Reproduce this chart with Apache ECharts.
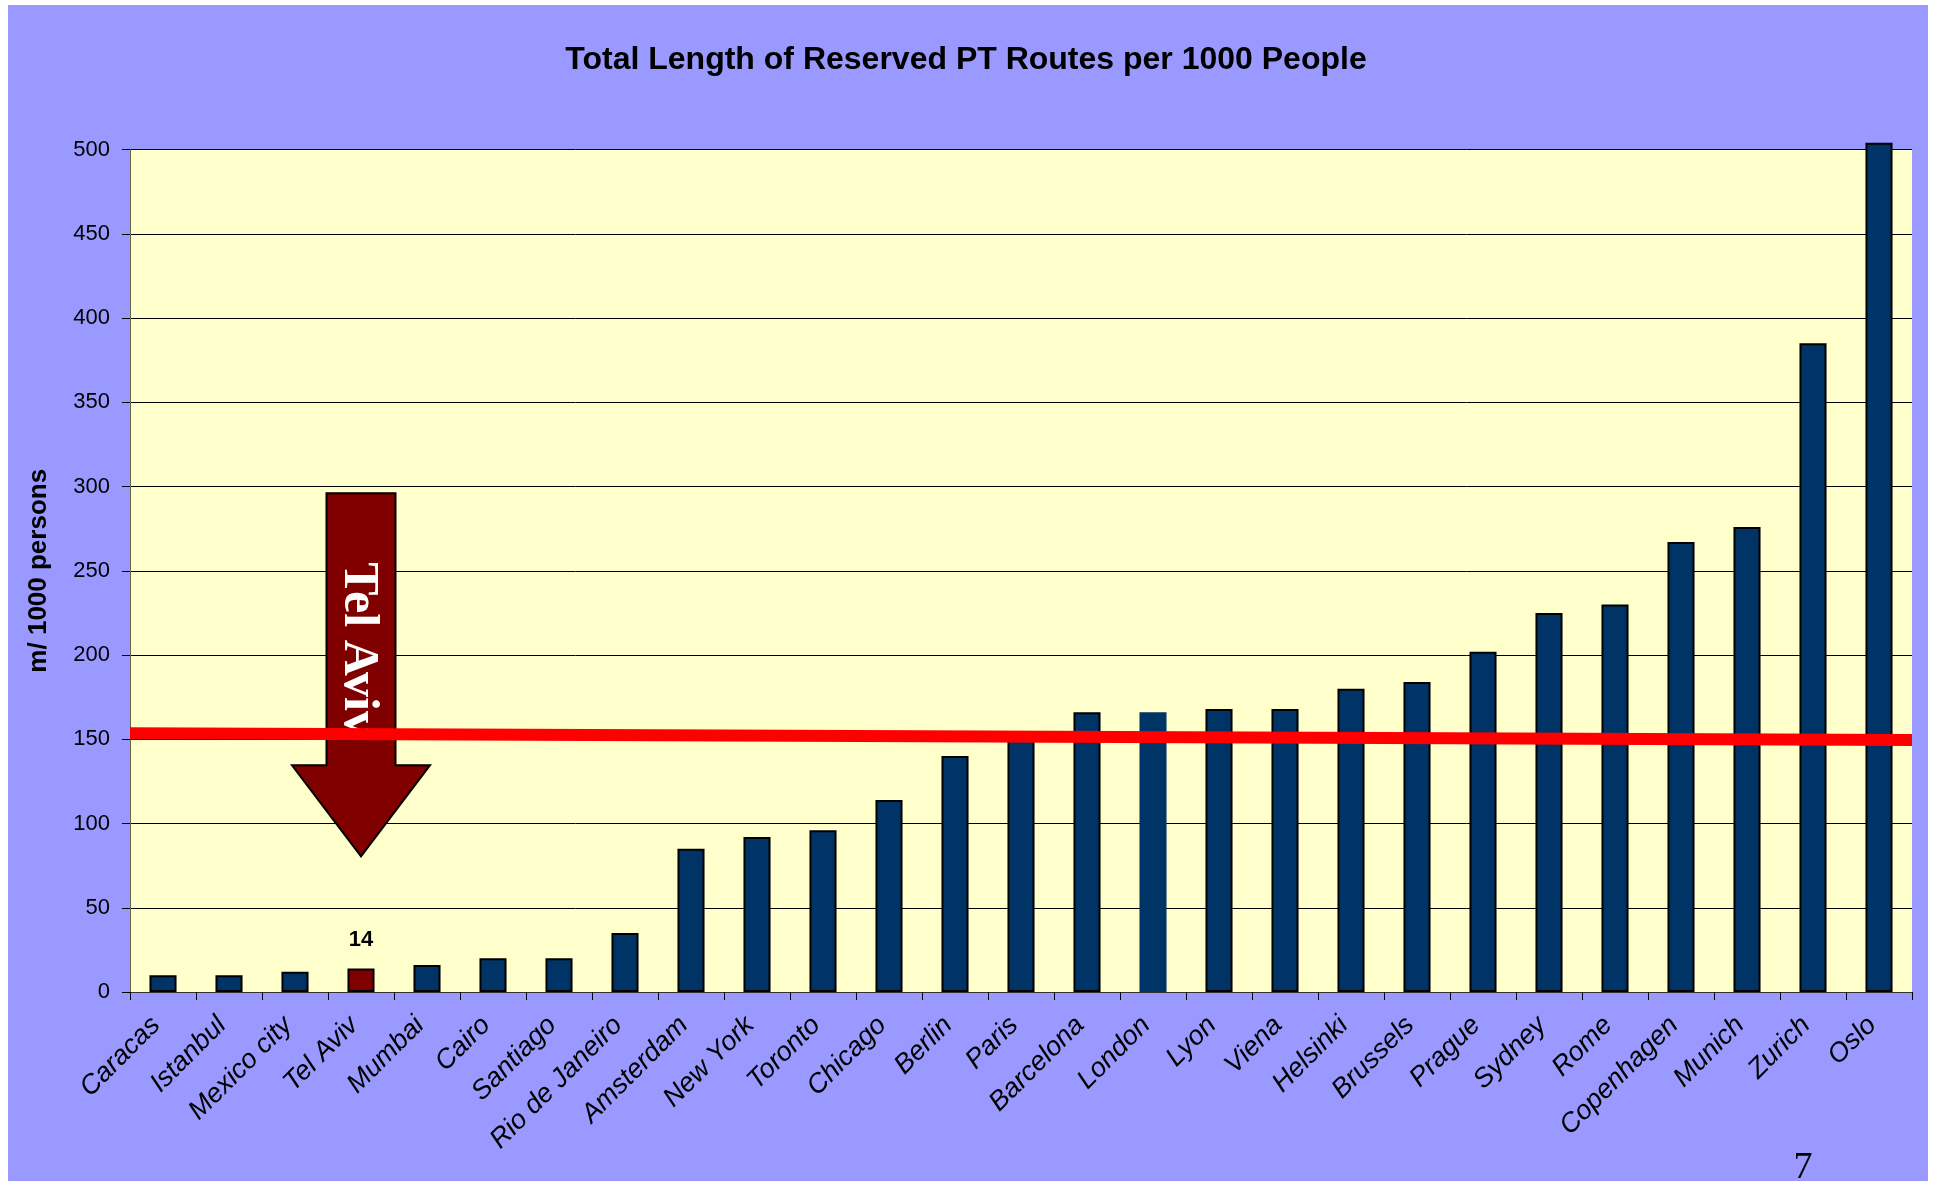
<!DOCTYPE html>
<html>
<head>
    <meta charset="utf-8">
    <title>Total Length of Reserved PT Routes per 1000 People</title>
    <script src="https://cdn.jsdelivr.net/npm/echarts@6/dist/echarts.min.js"></script>
    <style>
        body {
            margin: 0;
            background-color: #ffffff;
            font-family: 'Liberation Sans', Arial, sans-serif;
        }

        #chart {
            position: absolute;
            left: 8px;
            top: 5px;
            width: 1920px;
            height: 1176px;
            background-color: #9999ff;
        }
    </style>
</head>
<body>
    <div id="chart"></div>

    <script type="text/javascript">
        // 城市与数值
        const cities = ['Caracas', 'Istanbul', 'Mexico city', 'Tel Aviv', 'Mumbai', 'Cairo', 'Santiago',
            'Rio de Janeiro', 'Amsterdam', 'New York', 'Toronto', 'Chicago', 'Berlin', 'Paris',
            'Barcelona', 'London', 'Lyon', 'Viena', 'Helsinki', 'Brussels', 'Prague', 'Sydney',
            'Rome', 'Copenhagen', 'Munich', 'Zurich', 'Oslo'];
        const lengths = [10, 10, 12, 14, 16, 20, 20, 35, 85, 92, 96, 114, 140, 150,
            166, 166, 168, 168, 180, 184, 202, 225, 230, 267, 276, 385, 504];
        const yTicks = [0, 50, 100, 150, 200, 250, 300, 350, 400, 450, 500];
        // 红色平均线：左端、右端
        const avgLine = [153.5, 149.5];
        const highlightCity = 'Tel Aviv';
        const noBorderCity = 'London';
        // 箭头（数值坐标）：顶部、箭头底座、尖端、文字起点
        const arrowValues = { top: 296, base: 134.5, tip: 80.5, text: 255 };

        const chart = echarts.init(document.getElementById('chart'));

        const barData = cities.map(function (name, i) {
            const item = { value: lengths[i] };
            if (name === highlightCity) {
                item.itemStyle = { color: '#800000' };
                item.label = {
                    show: true,
                    position: 'top',
                    distance: 17,
                    fontSize: 22,
                    fontWeight: 'bold',
                    color: '#000',
                    fontFamily: 'Liberation Sans'
                };
            }
            if (name === noBorderCity) {
                item.itemStyle = { borderWidth: 0 };
            }
            return item;
        });

        const option = {
            animation: false,
            title: {
                text: 'Total Length of Reserved PT Routes per 1000 People',
                left: 953,
                top: 34,
                textAlign: 'center',
                textStyle: {
                    fontSize: 32,
                    fontWeight: 'bold',
                    color: '#000',
                    fontFamily: 'Liberation Sans'
                }
            },
            grid: {
                left: 122,
                right: 16,
                top: 144.5,
                bottom: 189,
                show: true,
                backgroundColor: '#ffffcc',
                borderWidth: 0
            },
            xAxis: [{
                type: 'category',
                data: cities,
                axisLine: { lineStyle: { color: '#333', width: 1 } },
                axisTick: { show: true, length: 8, lineStyle: { color: '#000' } },
                axisLabel: {
                    rotate: 45,
                    interval: 0,
                    margin: 22,
                    padding: [0, 10, 0, 0],
                    fontSize: 27,
                    fontStyle: 'italic',
                    color: '#000',
                    fontFamily: 'Liberation Sans'
                }
            }, {
                type: 'value',
                min: 0,
                max: 1,
                show: false
            }],
            yAxis: {
                type: 'value',
                min: yTicks[0],
                max: yTicks[yTicks.length - 1],
                interval: 50,
                name: 'm/ 1000 persons',
                nameLocation: 'middle',
                nameGap: 78,
                nameTextStyle: {
                    fontSize: 26,
                    fontWeight: 'bold',
                    color: '#000',
                    fontFamily: 'Liberation Sans'
                },
                axisLine: { show: true, lineStyle: { color: '#666644', width: 1 } },
                axisTick: { show: true, length: 8, lineStyle: { color: '#000' } },
                axisLabel: {
                    margin: 20,
                    fontSize: 22,
                    color: '#000',
                    fontFamily: 'Liberation Sans'
                },
                splitLine: { show: true, lineStyle: { color: '#000', width: 1 } }
            },
            series: [{
                name: 'Length',
                type: 'bar',
                data: barData,
                barWidth: '41%',
                clip: false,
                z: 2,
                itemStyle: {
                    color: '#003366',
                    borderColor: '#000',
                    borderWidth: 2
                }
            }, {
                name: 'Average',
                type: 'line',
                xAxisIndex: 1,
                data: [[0, avgLine[0]], [1, avgLine[1]]],
                symbol: 'none',
                z: 10,
                lineStyle: { color: '#ff0000', width: 12 }
            }]
        };
        chart.setOption(option);

        // 箭头标注（位置由坐标轴换算）
        const pTop = chart.convertToPixel({ xAxisIndex: 0, yAxisIndex: 0 }, [highlightCity, arrowValues.top]);
        const cx = pTop[0];
        const yTop = pTop[1];
        const yBase = chart.convertToPixel({ yAxisIndex: 0 }, arrowValues.base);
        const yTip = chart.convertToPixel({ yAxisIndex: 0 }, arrowValues.tip);
        const yText = chart.convertToPixel({ yAxisIndex: 0 }, arrowValues.text);
        const shaftHalf = 34.5;
        const headHalf = 69;

        chart.setOption({
            graphic: [{
                type: 'polygon',
                z: 5,
                shape: {
                    points: [
                        [cx - shaftHalf, yTop], [cx + shaftHalf, yTop], [cx + shaftHalf, yBase],
                        [cx + headHalf, yBase], [cx, yTip], [cx - headHalf, yBase],
                        [cx - shaftHalf, yBase]
                    ]
                },
                style: { fill: '#800000', stroke: '#000', lineWidth: 2 }
            }, {
                type: 'text',
                z: 6,
                x: cx - 3,
                y: yText,
                rotation: -Math.PI / 2,
                style: {
                    text: 'Tel Aviv',
                    fill: '#fff',
                    font: 'bold 50px "Liberation Serif", "Times New Roman", serif',
                    textAlign: 'left',
                    textVerticalAlign: 'middle'
                }
            }, {
                type: 'text',
                z: 6,
                x: 1795,
                y: 1163,
                style: {
                    text: '7',
                    fill: '#000',
                    font: '38px "Liberation Serif", "Times New Roman", serif',
                    textAlign: 'center',
                    textVerticalAlign: 'middle'
                }
            }]
        });

        window.addEventListener('resize', function () {
            chart.resize();
        });
    </script>
</body>
</html>
